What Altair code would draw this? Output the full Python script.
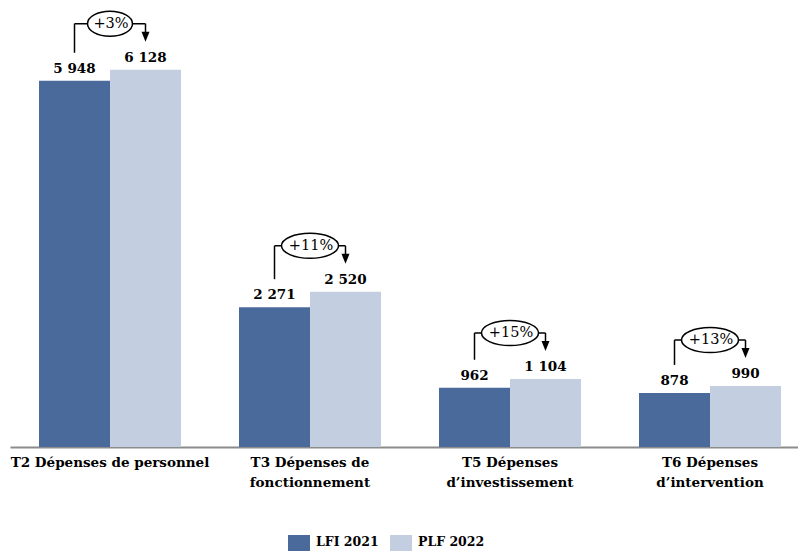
import altair as alt
import pandas as pd

categories = [
    "T2 Dépenses de personnel",
    "T3 Dépenses de\nfonctionnement",
    "T5 Dépenses\nd’investissement",
    "T6 Dépenses\nd’intervention",
]
lfi_2021 = [5948, 2271, 962, 878]
plf_2022 = [6128, 2520, 1104, 990]
changes = ["+3%", "+11%", "+15%", "+13%"]
series = ["LFI 2021", "PLF 2022"]
colors = ["#4A6A9B", "#C3CEE1"]

FONT = "DejaVu Serif"


def fr(v):
    return f"{v:,}".replace(",", "\u00a0")


rows = []
for c, a, b in zip(categories, lfi_2021, plf_2022):
    rows.append({"cat": c, "series": series[0], "value": a, "label": fr(a)})
    rows.append({"cat": c, "series": series[1], "value": b, "label": fr(b)})
long = pd.DataFrame(rows)


def ellipse_path(n_chars):
    w = 45 if n_chars <= 3 else 57
    r = 25 / w
    return f"M -1 0 A 1 {r:.3f} 0 1 0 1 0 A 1 {r:.3f} 0 1 0 -1 0 Z", w * w


grp = pd.DataFrame({"cat": categories, "lfi": lfi_2021, "plf": plf_2022, "pct": changes})
grp["shape"] = [ellipse_path(len(p))[0] for p in changes]
grp["esize"] = [ellipse_path(len(p))[1] for p in changes]

xscale = alt.Scale(range=[0, 800], paddingInner=0.29, paddingOuter=0.145)
yscale = alt.Scale(domain=[0, 7000], nice=False, zero=True)


def X():
    return alt.X("cat:N", sort=categories, scale=xscale, title=None)


bars = alt.Chart(long).mark_bar().encode(
    x=alt.X(
        "cat:N",
        sort=categories,
        scale=xscale,
        title=None,
        axis=alt.Axis(
            labelExpr="split(datum.value, '\\n')",
            labelFont=FONT,
            labelFontSize=13.5,
            labelFontWeight="bold",
            labelColor="black",
            labelPadding=8,
            labelLineHeight=20,
            labelAngle=0,
            labelLimit=0,
            ticks=False,
            domainColor="#8C8C8C",
            domainWidth=2,
            grid=False,
        ),
    ),
    xOffset=alt.XOffset("series:N", sort=series, scale=alt.Scale(paddingInner=0, paddingOuter=0)),
    y=alt.Y("value:Q", scale=yscale, axis=None, title=None),
    color=alt.Color(
        "series:N",
        sort=series,
        scale=alt.Scale(domain=series, range=colors),
        legend=alt.Legend(
            title=None,
            orient="none",
            legendX=278,
            legendY=519,
            direction="horizontal",
            symbolType="square",
            symbolSize=484,
            symbolStrokeWidth=0,
            symbolOpacity=1,
            labelFont=FONT,
            labelFontSize=12.5,
            labelFontWeight="bold",
            labelColor="black",
            labelBaseline="alphabetic",
            columnPadding=11,
            labelOffset=6,
        ),
    ),
)

labels = alt.Chart(long).mark_text(
    font=FONT, fontSize=13.5, fontWeight="bold", color="black", baseline="alphabetic", dy=-8
).encode(
    x=X(),
    xOffset=alt.XOffset("series:N", sort=series, scale=alt.Scale(paddingInner=0, paddingOuter=0)),
    y=alt.Y("value:Q", scale=yscale, axis=None, title=None),
    text="label:N",
)

base = alt.Chart(grp)

left_line = base.mark_rule(color="black", strokeWidth=1.5, xOffset=-35.5, yOffset=-28, y2Offset=-46).encode(
    x=X(),
    y=alt.Y("lfi:Q", scale=yscale, axis=None, title=None),
    y2="plf:Q",
)

top_line = base.mark_tick(color="black", size=71, thickness=1.5, yOffset=-46, opacity=1).encode(
    x=X(),
    y=alt.Y("plf:Q", scale=yscale, axis=None, title=None),
)

shaft = base.mark_rule(color="black", strokeWidth=1.5, xOffset=35.5, yOffset=-46, y2Offset=-37).encode(
    x=X(),
    y=alt.Y("plf:Q", scale=yscale, axis=None, title=None),
    y2="plf:Q",
)

arrow = base.mark_point(
    shape="M -0.8 -1 L 0.8 -1 L 0 1 Z", size=100, filled=True, color="black", opacity=1, xOffset=35.5, yOffset=-33
).encode(
    x=X(),
    y=alt.Y("plf:Q", scale=yscale, axis=None, title=None),
)

ellipse = base.mark_point(fill="white", stroke="black", strokeWidth=1.5, opacity=1, filled=False, fillOpacity=1, yOffset=-46).encode(
    x=X(),
    y=alt.Y("plf:Q", scale=yscale, axis=None, title=None),
    shape=alt.Shape("shape:N", scale=None, legend=None),
    size=alt.Size("esize:Q", scale=None, legend=None),
)

pct = base.mark_text(font=FONT, fontSize=14.5, color="black", baseline="middle", dy=-46, dx=1).encode(
    x=X(),
    y=alt.Y("plf:Q", scale=yscale, axis=None, title=None),
    text="pct:N",
)

chart = (
    alt.layer(bars, labels, left_line, top_line, shaft, arrow, ellipse, pct)
    .properties(
        width=788,
        height=431,
        autosize=alt.AutoSizeParams(type="none"),
        padding={"left": 10, "top": 16, "right": 0, "bottom": 104},
    )
    .configure_view(stroke=None)
)

chart.save("out.html", embed_options={"renderer": "svg", "actions": False})
